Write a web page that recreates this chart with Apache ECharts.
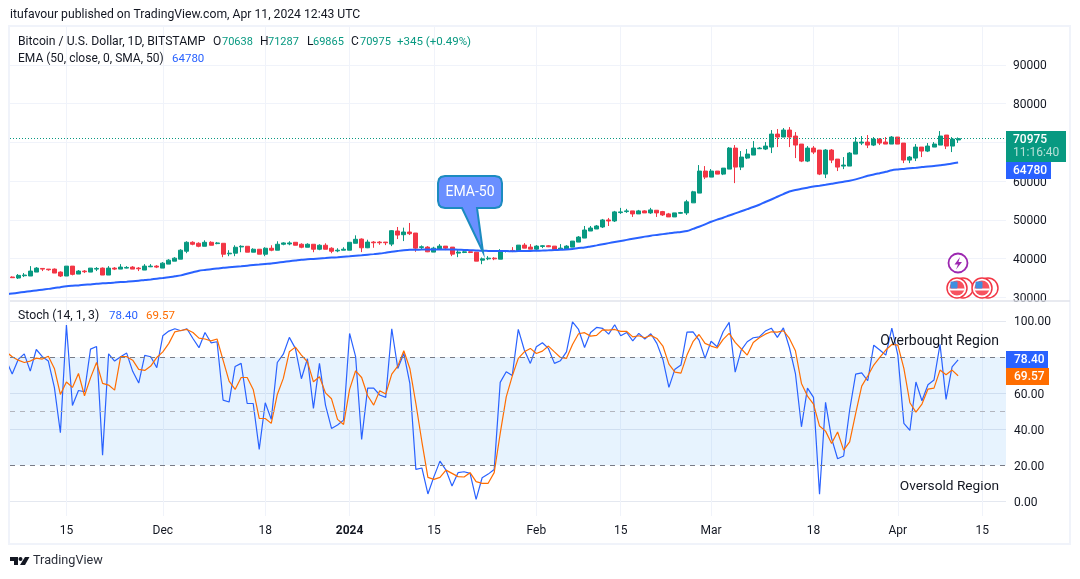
<!DOCTYPE html>
<html><head><meta charset="utf-8">
<style>html,body{margin:0;padding:0;background:#fff}#c{width:1080px;height:579px}</style>
<script src="https://cdn.jsdelivr.net/npm/echarts@6/dist/echarts.min.js"></script>
</head><body><div id="c"></div>
<script>
// Daily candles, first one is 2023-11-06, last one is 2024-04-11
const opens=[35210,34955,35550,35470,36495,37435,37260,37260,36495,35470,38030,35980,36750,36495,37260,37520,35725,37520,37260,37520,37780,37520,37010,37860,38030,37520,38550,39315,39830,41880,44190,43930,43160,44190,43850,43930,41200,41370,42990,43160,41625,42395,41110,42650,42140,43680,43760,44190,43680,42910,43680,42395,43420,42650,41970,42140,42140,43930,45020,42770,44240,44240,44240,43720,47100,46150,46840,46580,42860,42940,41650,42420,43200,42940,41390,41560,41730,41650,39570,39910,40090,39830,41820,42080,41910,43460,42940,42420,43120,43290,43200,42420,42420,42940,44240,45280,47100,47620,48140,49960,49700,51860,52120,52300,51520,52300,51780,52470,52120,51520,50740,51690,51780,54380,56900,62590,61030,62590,61810,63100,68530,63620,65950,66720,68360,68280,68790,72150,71380,73190,71640,69570,65170,68530,68020,61810,68020,65690,63880,63880,66980,69830,70090,69310,70860,70090,69570,71380,69830,65430,65950,68790,67760,68790,69310,71900,69050,70638];
const closes=[35040,35640,35725,36750,37520,37260,37090,36240,35470,38030,35900,36750,36580,37520,37435,35725,37520,37260,37780,37690,37260,37350,38030,38030,37780,38800,39570,40085,42140,44190,43680,43160,44190,43420,44020,41110,41370,42910,43160,41625,42395,41110,42650,42140,43680,44020,44020,43420,42910,43680,42395,43420,42395,41880,42140,42395,44190,44960,42770,44240,44070,44070,44070,47190,46060,46840,46410,42680,43030,41730,42680,43200,42680,41130,41650,41730,41560,39310,39910,40090,39910,41910,41990,41910,43460,42680,42420,43200,43290,43030,42340,42680,43200,44500,45540,47360,47880,48400,49960,49700,52040,52040,52300,51520,52300,51780,52560,51780,51260,50740,51780,51860,54640,57230,62590,61030,62590,61810,63360,68530,63620,66210,66980,68530,68530,69050,72150,71380,73190,71380,69310,65170,68530,67500,61810,68020,65430,63620,64140,67240,70090,70090,69310,70860,69830,69570,71380,69570,65430,66210,68790,67760,69050,69570,71640,69050,70860,70975];
const lows=[34955,34700,35210,35470,36495,36750,36840,36240,35210,35470,35640,35980,36240,36495,36750,35725,35725,37010,37260,37435,37260,36750,37010,37780,37520,37520,38550,39315,39830,41370,43420,42910,43160,43420,43680,40340,40600,40600,41625,41625,41625,41110,40600,41880,42140,43420,43420,43420,42650,42910,41625,42140,42395,41370,41625,42140,42140,43930,41650,42680,42770,43550,43460,43200,45020,44500,46060,41730,42420,41650,41650,42420,42170,40610,40350,41390,41390,39310,38530,39570,39570,39830,41560,41650,41910,42680,42420,41910,42680,42940,42340,42170,42420,42940,44240,45280,47100,47620,47880,48400,49440,51520,51780,50740,51520,51780,51520,50740,51000,50740,50740,51520,51260,54380,56900,60520,61030,61810,61550,63100,59480,62840,65690,66720,68280,68020,67240,68790,71380,68790,65950,64910,64910,66980,61550,60780,64650,62590,63100,63880,66980,69310,68530,69050,69310,69570,69570,69570,64650,64650,65170,66210,67500,68790,69310,68280,67500,69865];
const highs=[35380,35980,36240,38030,37780,37435,37260,37435,36670,38030,38030,37010,37010,37520,37780,37690,38030,37780,38550,38030,38030,37780,38550,38550,38290,39060,39830,40340,42395,44450,44450,44190,44700,44450,44275,43930,42140,43420,43420,43160,42650,42395,42910,43420,44450,44190,44450,44190,43930,43930,43680,43680,43930,42910,42650,42910,44190,45985,45200,44850,44500,44500,44240,47360,48140,47970,49180,46580,43380,43200,43030,43720,43200,42940,42170,42170,42170,41650,40260,40610,40350,42420,42170,42940,43460,43980,43720,43460,43460,43460,43200,43720,43460,44500,45800,48400,48400,48660,50220,50480,52300,53080,52820,52300,52560,52470,53080,52470,52300,51780,51780,52040,55150,57490,64140,63880,63100,62590,63360,68790,69310,67760,68280,70340,68790,70090,73190,73450,73710,73960,72670,69570,69050,69050,68020,68280,68280,65690,66210,67500,71380,71640,71900,71380,71120,71380,71640,71380,69830,66470,69570,68790,69830,70090,72930,71900,71380,71287];
// These three start one day earlier, 2023-11-05
const ema=[30750,30950,31150,31350,31550,31750,31950,32150,32350,32600,32820,32950,33050,33200,33300,33450,33590,33650,33770,33900,34000,34100,34250,34450,34600,34780,34955,35150,35400,35640,36050,36450,36840,37050,37250,37400,37580,37720,37860,38000,38150,38300,38450,38600,38720,38920,39120,39300,39480,39660,39780,39900,40020,40130,40240,40340,40470,40600,40730,40855,41000,41130,41270,41500,41750,41950,42130,42250,42280,42300,42310,42320,42330,42340,42330,42290,42220,42150,42070,41990,41970,41950,41930,41910,41900,41910,41930,41960,42000,42050,42110,42180,42260,42340,42480,42700,42830,43110,43390,43680,43970,44250,44530,44810,45090,45370,45650,45900,46100,46300,46500,46700,46870,47100,47650,48200,48800,49500,50050,50520,51100,51650,52200,52750,53300,53900,54600,55250,55950,56650,57330,57700,58000,58300,58600,58820,59050,59300,59550,59850,60090,60450,60900,61400,61700,62050,62400,62800,63000,63150,63300,63450,63620,63750,63900,64100,64300,64550,64780];
const stochK=[78.2,70.5,78.6,81.7,72.1,84.1,80.1,77.7,63.1,38.0,97.6,53.1,61.4,60.7,84.3,85.8,25.6,81.7,77.7,80.1,82.1,72.0,65.5,80.8,80.1,74.0,91.7,94.3,95.6,94.5,95.6,90.2,85.1,93.5,87.8,88.4,56.1,55.0,74.7,76.4,54.2,54.2,28.8,54.6,45.4,76.9,81.5,90.8,84.7,67.9,79.0,51.5,76.4,53.3,40.4,42.3,45.0,93.0,80.1,34.3,62.7,62.7,58.9,57.6,95.6,73.6,81.9,65.3,17.7,18.5,4.1,13.7,22.3,17.3,8.5,15.9,16.4,15.5,1.1,13.1,15.1,17.7,65.9,71.8,69.7,95.2,83.8,76.4,85.6,87.8,84.7,76.4,77.9,82.8,99.4,95.2,85.2,93.5,96.3,95.8,92.6,97.8,91.7,93.5,88.9,93.0,89.9,92.8,87.5,78.6,63.1,73.2,75.5,93.7,93.9,89.3,79.2,88.7,85.6,93.9,99.1,71.6,83.8,88.4,90.6,91.1,94.3,95.9,90.8,96.1,85.2,70.8,41.3,62.7,57.6,3.9,54.8,34.9,23.6,25.1,50.6,70.5,71.2,66.8,86.5,83.8,81.0,95.9,81.0,43.2,39.3,66.1,55.7,64.6,67.2,86.9,56.5,74.5,78.40];
const stochD=[82.8,80.1,78.2,76.9,77.7,79.3,78.8,80.4,73.6,59.2,66.1,63.1,70.8,58.5,68.4,76.9,65.3,64.4,61.6,80.1,80.1,78.2,73.1,72.5,74.9,79.7,82.8,87.5,93.9,94.6,95.2,93.5,90.4,89.9,88.9,89.9,78.2,66.6,62.0,68.6,68.6,62.0,45.9,45.9,43.2,59.2,68.1,82.8,85.4,81.0,77.3,66.2,69.0,60.1,56.8,45.4,42.6,62.0,72.3,68.6,58.5,53.3,61.3,59.4,70.5,74.9,83.4,73.6,54.2,33.0,13.3,12.2,13.3,17.3,15.5,13.7,13.5,15.9,10.9,10.0,10.0,15.9,37.6,57.9,69.4,79.2,82.8,84.7,81.9,83.2,86.0,82.8,79.7,79.2,86.9,92.8,93.4,91.5,91.9,95.0,94.8,95.2,94.1,94.1,91.1,91.7,90.6,91.9,90.2,86.0,76.0,71.6,71.0,81.0,88.4,92.4,87.5,86.0,84.9,89.7,93.0,88.0,84.5,81.0,88.0,90.6,92.6,93.9,93.7,94.5,90.2,83.4,65.3,58.3,53.9,41.7,38.9,32.1,38.4,28.4,33.0,48.7,63.8,69.4,75.5,79.7,83.8,86.9,86.5,73.6,54.6,49.4,53.9,62.2,62.7,72.7,70.1,72.7,69.57];
// Tick labels, as days since the first candle
const tickDays=[9,25,42,56,70,87,101,116,133,147,161];
const tickNames=['15','Dec','18','2024','15','Feb','15','Mar','18','Apr','15'];
const priceTicks=[30000,40000,50000,60000,70000,80000,90000];
const stochTicks=[0,20,40,60,100];
const stochGrid=[0,40,60,100];

const FONT='Roboto';
const INK='#131722', UP='#089981', DOWN='#F23645', BLUE='#2962FF', ORANGE='#FF6D00', GRID='#F0F3FA';
const XMIN=-0.365, XMAX=164.95;

function txt(x,y,s,o){o=o||{};return {type:'text',x:x,y:y+1,z:20,silent:true,style:{text:s,fill:o.fill||INK,font:(o.weight||'')+' '+(o.size||12)+'px '+FONT,textAlign:o.align||'left',textVerticalAlign:'middle'}};}
function box(x,y,w,h,c,r){return {type:'rect',z:18,silent:true,shape:{x:x,y:y,width:w,height:h,r:r||0},style:{fill:c}};}
function flag(cx,cy){return [
 {type:'circle',z:16,silent:true,shape:{cx:cx+6,cy:cy,r:10},style:{fill:'#fff',stroke:'#F23645',lineWidth:1.5}},
 {type:'circle',z:17,silent:true,shape:{cx:cx,cy:cy,r:10},style:{fill:'#fff',stroke:'#F23645',lineWidth:1.5}},
 {type:'circle',z:17,silent:true,shape:{cx:cx,cy:cy,r:7.5},style:{fill:'#F7525F'}},
 {type:'rect',z:17,silent:true,shape:{x:cx-7.5,y:cy+0.5,width:15,height:2},style:{fill:'#fff'}},
 {type:'rect',z:17,silent:true,shape:{x:cx-6.5,y:cy-6.5,width:7,height:7,r:1},style:{fill:'#3D8FE0'}}
];}

const candles=opens.map((o,i)=>[i,o,closes[i],lows[i],highs[i]]);
const shift=a=>a.map((v,k)=>[k-1,v]);

const graphic=[
 {type:'rect',z:1,silent:true,shape:{x:9,y:26,width:1061,height:518},style:{fill:'none',stroke:'#F0F3FA',lineWidth:2}},
 {type:'line',z:1,silent:true,shape:{x1:10,y1:301,x2:1070,y2:301},style:{stroke:'#E0E3EB',lineWidth:1.5}},
 txt(10,14,'itufavour published on TradingView.com, Apr 11, 2024 12:43 UTC',{size:12.2}),
 txt(18,41,'Bitcoin / U.S. Dollar, 1D, BITSTAMP',{size:12.2}),
 txt(213,41,'O'),txt(222,41,'70638',{fill:UP,size:11}),
 txt(260,41,'H'),txt(268,41,'71287',{fill:UP,size:11}),
 txt(307,41,'L'),txt(313,41,'69865',{fill:UP,size:11}),
 txt(351,41,'C'),txt(360,41,'70975',{fill:UP,size:11}),
 txt(397,41,'+345 (+0.49%)',{fill:UP,size:11.5}),
 txt(18,58,'EMA (50, close, 0, SMA, 50)'),txt(172,58,'64780',{fill:BLUE,size:11.5}),
 txt(18,315,'Stoch (14, 1, 3)',{size:12.25}),txt(109,315,'78.40',{fill:BLUE,size:11.5}),txt(146,315,'69.57',{fill:ORANGE,size:11.5}),
 box(1006,131,60,31,UP),
 txt(1013,139,'70975',{fill:'#fff',weight:500}),txt(1013,152,'11:16:40',{fill:'#B5E0D6'}),
 box(1006,162,45,17,BLUE),txt(1013,169.5,'64780',{fill:'#fff',weight:500}),
 box(1006,351,42,17,BLUE),txt(1014,359,'78.40',{fill:'#fff',weight:500}),
 box(1006,368,43,17,ORANGE),txt(1014,376,'69.57',{fill:'#fff',weight:500}),
 txt(999,340,'Overbought Region',{align:'right',size:14}),
 txt(999,486,'Oversold Region',{align:'right',size:13.7}),
 {type:'polygon',z:19,silent:true,shape:{points:[[445,176],[495,176],[499,177],[501,179],[502,183],[502,201],[501,205],[499,207],[495,208],[477,208],[483,252],[462,208],[445,208],[441,207],[439,205],[438,201],[438,183],[439,179],[441,177]]},style:{fill:'#6A8FFF',stroke:'#1C8BC0',lineWidth:2}},
 txt(470,191,'EMA-50',{fill:'#fff',align:'center',size:14}),
 {type:'circle',z:17,silent:true,shape:{cx:958,cy:263,r:9.5},style:{fill:'#fff',stroke:'#9C27B0',lineWidth:1.8}},
 {type:'polygon',z:17,silent:true,shape:{points:[[960,257],[954.5,264.5],[958,264.5],[956,269.5],[962,262],[958.5,262]]},style:{fill:'#9C27B0'}},
 ...flag(957,288),...flag(982,288),
 {type:'polygon',z:20,silent:true,shape:{points:[[10,557],[18,557],[18,565],[14,565],[14,561],[10,561]]},style:{fill:INK}},
 {type:'circle',z:20,silent:true,shape:{cx:20.5,cy:559,r:2},style:{fill:INK}},
 {type:'polygon',z:20,silent:true,shape:{points:[[25,557],[29.5,557],[25,565],[20,565]]},style:{fill:INK}},
 txt(33,560,'TradingView',{size:12.7,fill:'#2A2E39'})
];

const xAxisBase={type:'value',min:XMIN,max:XMAX,axisLine:{show:false},
 axisTick:{show:false,customValues:tickDays},splitLine:{show:true,lineStyle:{color:GRID,width:1}}};
const valueRich={a:{padding:[3,0,0,0],fontFamily:FONT,fontSize:12,color:INK}};

const chart=echarts.init(document.getElementById('c'),null,{renderer:'canvas'});
chart.setOption({
 animation:false,backgroundColor:'#fff',
 grid:[{left:10,right:74,top:27,height:274},{left:10,right:74,top:302,height:214}],
 xAxis:[
  Object.assign({},xAxisBase,{gridIndex:0,axisLabel:{show:false,customValues:tickDays}}),
  Object.assign({},xAxisBase,{gridIndex:1,axisLabel:{show:true,customValues:tickDays,margin:9,color:INK,fontFamily:FONT,fontSize:12,
    formatter:v=>{const n=tickNames[tickDays.indexOf(v)];return n==='2024'?'{b|2024}':n;},rich:{b:{fontWeight:'bold',fontFamily:FONT,fontSize:12,color:INK}}}})
 ],
 yAxis:[
  {type:'value',gridIndex:0,position:'right',min:29018,max:99819,axisLine:{show:false},axisTick:{show:false,customValues:priceTicks},
   splitLine:{show:true,lineStyle:{color:GRID}},
   axisLabel:{customValues:priceTicks,margin:7,color:INK,fontFamily:FONT,fontSize:12,formatter:v=>'{a|'+v+'}',rich:valueRich}},
  {type:'value',gridIndex:1,position:'right',min:-8.1,max:110.4,axisLine:{show:false},axisTick:{show:false,customValues:stochGrid},
   splitLine:{show:true,lineStyle:{color:'#E4E8F0'}},
   axisLabel:{customValues:stochTicks,margin:8,color:INK,fontFamily:FONT,fontSize:12,formatter:v=>'{a|'+v.toFixed(2)+'}',rich:valueRich}}
 ],
 series:[
  {type:'candlestick',xAxisIndex:0,yAxisIndex:0,data:candles,barWidth:4.5,encode:{x:0,y:[1,2,3,4]},
   itemStyle:{color:UP,color0:DOWN,borderColor:UP,borderColor0:DOWN,borderWidth:1},
   markLine:{silent:true,symbol:'none',label:{show:false},lineStyle:{color:UP,type:[1,2],width:1},data:[{yAxis:closes[closes.length-1]}]}},
  {type:'line',xAxisIndex:0,yAxisIndex:0,data:shift(ema),showSymbol:false,symbol:'none',smooth:0.3,lineStyle:{color:BLUE,width:2},z:3},
  {type:'line',xAxisIndex:1,yAxisIndex:1,data:shift(stochK),showSymbol:false,symbol:'none',lineStyle:{color:BLUE,width:1.2},z:3,
   markArea:{silent:true,itemStyle:{color:'rgba(33,150,243,0.11)'},data:[[{yAxis:80},{yAxis:20}]]},
   markLine:{silent:true,symbol:'none',label:{show:false},data:[
    {yAxis:80,lineStyle:{color:'#787B86',type:[5,5],width:1}},
    {yAxis:50,lineStyle:{color:'#B2B5BE',type:[5,5],width:1}},
    {yAxis:20,lineStyle:{color:'#787B86',type:[5,5],width:1}}]}},
  {type:'line',xAxisIndex:1,yAxisIndex:1,data:shift(stochD),showSymbol:false,symbol:'none',lineStyle:{color:ORANGE,width:1.2},z:4}
 ],
 graphic:graphic
});
</script></body></html>
